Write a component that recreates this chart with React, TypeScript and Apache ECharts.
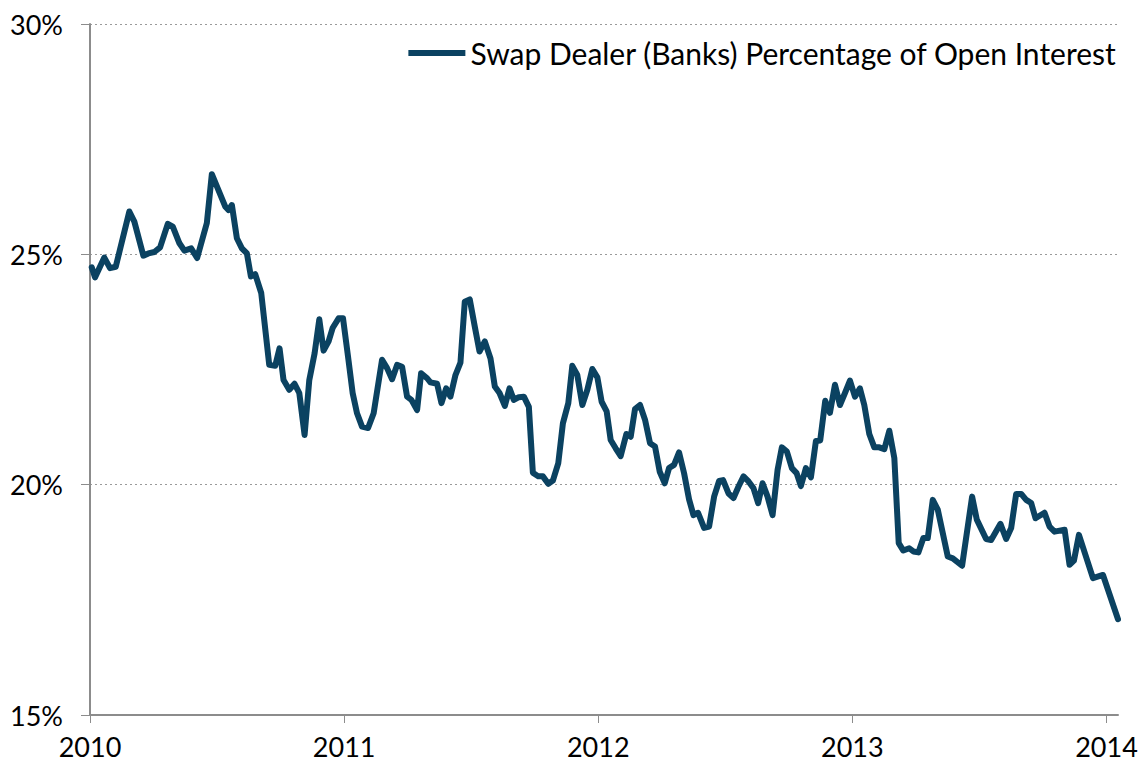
import React, { useEffect, useRef } from "react";
import * as echarts from "echarts";

const datePos: number[] = [
  2010.0067, 2010.0197, 2010.0563, 2010.0788, 2010.1013, 2010.1548, 2010.1745, 2010.21, 2010.2297, 2010.2533,
  2010.2758, 2010.3061, 2010.3258, 2010.3519, 2010.3716, 2010.398, 2010.4216, 2010.4598, 2010.4795, 2010.5319,
  2010.5449, 2010.5583, 2010.578, 2010.5977, 2010.6174, 2010.6332, 2010.6501, 2010.6738, 2010.7053, 2010.7289,
  2010.7459, 2010.7616, 2010.7841, 2010.805, 2010.8235, 2010.8444, 2010.8629, 2010.8838, 2010.9023, 2010.9192,
  2010.9389, 2010.9547, 2010.9783, 2010.9957, 2011.0154, 2011.0335, 2011.0508, 2011.0705, 2011.0942, 2011.1162,
  2011.1493, 2011.169, 2011.1887, 2011.2084, 2011.2281, 2011.2478, 2011.2648, 2011.2872, 2011.303, 2011.3266,
  2011.3396, 2011.366, 2011.383, 2011.4015, 2011.4184, 2011.4381, 2011.4578, 2011.4748, 2011.4945, 2011.5142,
  2011.5327, 2011.5536, 2011.576, 2011.593, 2011.6115, 2011.6324, 2011.6509, 2011.6678, 2011.6876, 2011.7073,
  2011.727, 2011.7427, 2011.764, 2011.7821, 2011.8034, 2011.8215, 2011.8428, 2011.8609, 2011.8822, 2011.8979,
  2011.9176, 2011.9374, 2011.9571, 2011.9768, 2011.9965, 2012.0134, 2012.0331, 2012.0489, 2012.0686, 2012.0883,
  2012.1107, 2012.1277, 2012.1446, 2012.1643, 2012.184, 2012.2037, 2012.2234, 2012.2419, 2012.2616, 2012.2786,
  2012.2983, 2012.318, 2012.3377, 2012.3574, 2012.3747, 2012.3928, 2012.4165, 2012.4362, 2012.4559, 2012.4756,
  2012.4913, 2012.5126, 2012.5323, 2012.552, 2012.5717, 2012.5914, 2012.6111, 2012.6292, 2012.6466, 2012.6663,
  2012.686, 2012.7057, 2012.7226, 2012.7423, 2012.762, 2012.7806, 2012.7975, 2012.8172, 2012.8369, 2012.8566,
  2012.8735, 2012.8932, 2012.9118, 2012.9315, 2012.9512, 2012.9709, 2012.9905, 2013.0102, 2013.0299, 2013.0469,
  2013.0666, 2013.0863, 2013.106, 2013.1257, 2013.1454, 2013.1651, 2013.1824, 2013.2005, 2013.2238, 2013.24,
  2013.2597, 2013.2794, 2013.2967, 2013.3164, 2013.3361, 2013.3755, 2013.3952, 2013.4318, 2013.4712, 2013.4897,
  2013.5264, 2013.5461, 2013.5827, 2013.6052, 2013.6249, 2013.6446, 2013.6643, 2013.684, 2013.7037, 2013.7207,
  2013.7562, 2013.7758, 2013.7955, 2013.8353, 2013.8546, 2013.8719, 2013.8916, 2013.9468, 2013.9862, 2014.0453,
];

// Swap dealer (banks) share of open interest, %
const swapDealerPct: number[] = [
  24.72, 24.5, 24.93, 24.7, 24.73, 25.93, 25.71, 24.97, 25.02, 25.05,
  25.15, 25.66, 25.6, 25.24, 25.08, 25.13, 24.92, 25.68, 26.74, 26.04,
  25.96, 26.07, 25.35, 25.13, 25.02, 24.52, 24.57, 24.16, 22.6, 22.58,
  22.96, 22.27, 22.06, 22.19, 21.99, 21.08, 22.27, 22.85, 23.59, 22.91,
  23.11, 23.4, 23.61, 23.61, 22.78, 21.99, 21.55, 21.26, 21.23, 21.55,
  22.71, 22.53, 22.29, 22.6, 22.56, 21.91, 21.84, 21.62, 22.42, 22.31,
  22.22, 22.19, 21.77, 22.09, 21.91, 22.38, 22.65, 23.97, 24.02, 23.43,
  22.89, 23.11, 22.74, 22.13, 21.99, 21.71, 22.09, 21.84, 21.9, 21.91,
  21.69, 20.26, 20.18, 20.18, 20.02, 20.09, 20.47, 21.33, 21.77, 22.58,
  22.38, 21.73, 22.06, 22.51, 22.33, 21.8, 21.59, 20.97, 20.79, 20.62,
  21.1, 21.04, 21.64, 21.73, 21.41, 20.9, 20.83, 20.28, 20.03, 20.36,
  20.43, 20.7, 20.25, 19.68, 19.34, 19.39, 19.06, 19.09, 19.74, 20.08,
  20.1, 19.81, 19.71, 19.96, 20.18, 20.07, 19.92, 19.6, 20.03, 19.74,
  19.34, 20.32, 20.81, 20.72, 20.36, 20.25, 19.97, 20.36, 20.16, 20.95,
  20.96, 21.82, 21.56, 22.17, 21.73, 21.99, 22.26, 21.91, 22.09, 21.73,
  21.1, 20.81, 20.81, 20.77, 21.17, 20.58, 18.73, 18.57, 18.62, 18.55,
  18.53, 18.84, 18.84, 19.67, 19.46, 18.44, 18.4, 18.24, 19.74, 19.24,
  18.82, 18.8, 19.15, 18.82, 19.06, 19.8, 19.8, 19.67, 19.6, 19.27,
  19.39, 19.09, 18.98, 19.02, 18.26, 18.35, 18.91, 17.97, 18.04, 17.08,
];

const yearTicks: number[] = [2010, 2011, 2012, 2013, 2014];
const seriesName = "Swap Dealer (Banks) Percentage of Open Interest";

const FONT = "Lato, 'Open Sans', sans-serif";
const LINE_COLOR = "#0b4261";
const AXIS_COLOR = "#8c8c8c";

export default function App() {
  const ref = useRef<HTMLDivElement>(null);

  useEffect(() => {
    if (!ref.current) return;
    const chart = echarts.init(ref.current, undefined, { renderer: "svg" });
    const data = datePos.map((d, i) => [d, swapDealerPct[i]]);
    chart.setOption({
      animation: false,
      backgroundColor: "#ffffff",
      textStyle: { fontFamily: FONT },
      grid: { left: 90, right: 25, top: 24, bottom: 53, containLabel: false },
      legend: {
        right: 21,
        top: 33,
        itemWidth: 57,
        itemHeight: 6,
        data: [{ name: seriesName, icon: "rect" }],
        itemStyle: { color: LINE_COLOR },
        textStyle: { fontFamily: FONT, fontSize: 30, color: "#000" },
      },
      xAxis: {
        type: "value",
        min: 2010,
        max: datePos[datePos.length - 1],
        interval: 1,
        axisLine: { show: true, lineStyle: { color: AXIS_COLOR, width: 2 } },
        axisTick: {
          show: true,
          length: 8,
          customValues: yearTicks,
          lineStyle: { color: AXIS_COLOR, width: 1 },
        },
        axisLabel: {
          customValues: yearTicks,
          margin: 18,
          fontFamily: FONT,
          fontSize: 27,
          color: "#000",
          formatter: (v: number) => String(Math.round(v)),
        },
        splitLine: { show: false },
      },
      yAxis: {
        type: "value",
        min: 15,
        max: 30,
        interval: 5,
        axisLine: { show: true, lineStyle: { color: AXIS_COLOR, width: 2 } },
        axisTick: { show: true, length: 9, lineStyle: { color: AXIS_COLOR, width: 1 } },
        axisLabel: {
          margin: 27,
          fontFamily: FONT,
          fontSize: 27,
          color: "#000",
          formatter: (v: number) => v + "%",
        },
        splitLine: {
          show: true,
          lineStyle: { color: "#9a9a9a", type: [2, 3], width: 1 },
        },
      },
      series: [
        {
          name: seriesName,
          type: "line",
          data,
          symbol: "none",
          lineStyle: { color: LINE_COLOR, width: 6, join: "round", cap: "round" },
          itemStyle: { color: LINE_COLOR },
        },
      ],
    });
    return () => chart.dispose();
  }, []);

  return (
    <div
      ref={ref}
      style={{ position: "absolute", left: 0, top: 0, width: 1143, height: 768 }}
    />
  );
}
